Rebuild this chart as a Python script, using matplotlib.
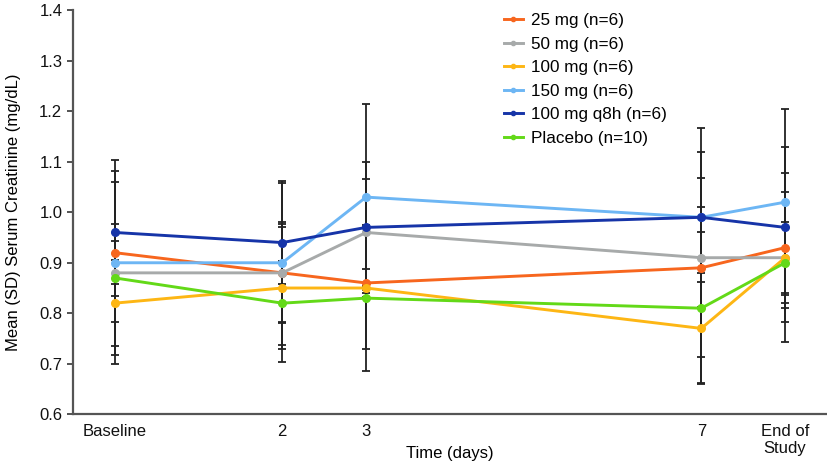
import matplotlib
matplotlib.use("Agg")
import matplotlib.pyplot as plt

plt.rcParams['font.family'] = ['Liberation Sans', 'DejaVu Sans']

# x positions (days), Baseline = 0, End of Study placed after day 7
time_x = [0, 2, 3, 7, 8]
tick_labels = ["Baseline", "2", "3", "7", "End of\nStudy"]

labels = ["25 mg (n=6)", "50 mg (n=6)", "100 mg (n=6)", "150 mg (n=6)",
          "100 mg q8h (n=6)", "Placebo (n=10)"]
colors = ["#F7661E", "#A7AAAA", "#FDB614", "#6DB6F4", "#1634A8", "#63D918"]

mean_25 = [0.92, 0.88, 0.86, 0.89, 0.93]
mean_50 = [0.88, 0.88, 0.96, 0.91, 0.91]
mean_100 = [0.82, 0.85, 0.85, 0.77, 0.91]
mean_150 = [0.90, 0.90, 1.03, 0.99, 1.02]
mean_q8h = [0.96, 0.94, 0.97, 0.99, 0.97]
mean_pbo = [0.87, 0.82, 0.83, 0.81, 0.90]

sd_25 = [0.184, 0.10, 0.028, 0.177, 0.11]
sd_50 = [0.18, 0.177, 0.106, 0.10, 0.07]
sd_100 = [0.037, 0.12, 0.12, 0.109, 0.167]
sd_150 = [0.182, 0.162, 0.184, 0.129, 0.184]
sd_q8h = [0.017, 0.037, 0.13, 0.177, 0.16]
sd_pbo = [0.035, 0.038, 0.144, 0.15, 0.118]

means = [mean_25, mean_50, mean_100, mean_150, mean_q8h, mean_pbo]
sds = [sd_25, sd_50, sd_100, sd_150, sd_q8h, sd_pbo]

fig = plt.figure(figsize=(8.27, 4.66), dpi=100)
ax = fig.add_axes([0.088, 0.111, 0.912, 0.867])

for m, s in zip(means, sds):
    ax.errorbar(time_x, m, yerr=s, fmt='none', ecolor='#222222',
                elinewidth=1.3, capsize=3, capthick=1.3, zorder=1)

for m, c, lab in zip(means, colors, labels):
    ax.plot(time_x, m, color=c, lw=2.1, marker='o', markersize=5.5,
            label=lab, zorder=3)

ax.set_xlim(-0.5, 8.5)
ax.set_ylim(0.6, 1.4)
ax.set_yticks([0.6, 0.7, 0.8, 0.9, 1.0, 1.1, 1.2, 1.3, 1.4])
ax.set_yticklabels(["0.6", "0.7", "0.8", "0.9", "1.0", "1.1", "1.2", "1.3", "1.4"])
ax.set_xticks(time_x)
ax.set_xticklabels(tick_labels)
ax.tick_params(axis='x', length=0, pad=7, labelsize=12, colors='#111111')
ax.tick_params(axis='y', length=4, width=1.3, direction='out', labelsize=12,
               colors='#444444', labelcolor='#111111')

for side in ['top', 'right']:
    ax.spines[side].set_visible(False)
for side in ['left', 'bottom']:
    ax.spines[side].set_color('#555555')
    ax.spines[side].set_linewidth(1.6)

ax.set_xlabel("Time (days)", fontsize=12, va='center')
ax.xaxis.set_label_coords(0.5, -0.098)
ax.set_ylabel("Mean (SD) Serum Creatinine (mg/dL)", fontsize=12, va='center')
ax.yaxis.set_label_coords(-0.079, 0.5)

ax.legend(loc='upper left', bbox_to_anchor=(0.609, 0.972),
          bbox_transform=fig.transFigure, frameon=False, fontsize=12.3,
          handlelength=1.15, handletextpad=0.45, labelspacing=0.5,
          borderpad=0, borderaxespad=0, markerscale=0.55)

fig.savefig("out.png", dpi=100)
